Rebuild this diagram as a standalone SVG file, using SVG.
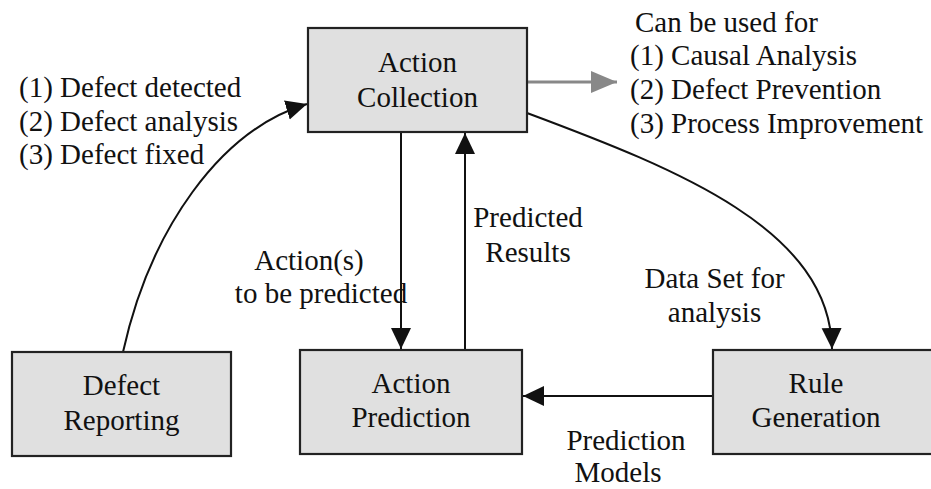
<svg xmlns="http://www.w3.org/2000/svg" width="931" height="489" viewBox="0 0 931 489">
<defs>
<marker id="ah" markerUnits="userSpaceOnUse" markerWidth="22" markerHeight="21" refX="21" refY="10" orient="auto">
<path d="M0,0 L21,10 L0,20 z" fill="#111"/>
</marker>
<marker id="ahg" markerUnits="userSpaceOnUse" markerWidth="27" markerHeight="22" refX="26" refY="11" orient="auto">
<path d="M0,0 L26,11 L0,22 z" fill="#888"/>
</marker>
</defs>
<rect width="931" height="489" fill="#fff"/>
<g id="connectors" fill="none" stroke="#111" stroke-width="2">
<path d="M401,132 L401,349" marker-end="url(#ah)"/>
<path d="M465,350 L465,133" marker-end="url(#ah)"/>
<path d="M713,396 L523,396" marker-end="url(#ah)"/>
<path d="M527,113 C680,170 830,230 832,349" marker-end="url(#ah)"/>
<path d="M123,352 C150,230 220,130 307,104" marker-end="url(#ah)"/>
<path d="M527,82 L617,82" stroke="#888" stroke-width="3" marker-end="url(#ahg)"/>
</g>
<g font-family="Liberation Serif" font-size="29" fill="#111">
<g id="action-collection" text-anchor="middle">
<rect x="308" y="28" width="219" height="104" fill="#e0e0e0" stroke="#222" stroke-width="2.2"/>
<text x="417.5" y="72">Action</text>
<text x="417.5" y="107">Collection</text>
</g>
<g id="defect-reporting" text-anchor="middle">
<rect x="12" y="352" width="219" height="104" fill="#e0e0e0" stroke="#222" stroke-width="2.2"/>
<text x="121.5" y="395">Defect</text>
<text x="121.5" y="430">Reporting</text>
</g>
<g id="action-prediction" text-anchor="middle">
<rect x="300" y="350" width="222" height="104" fill="#e0e0e0" stroke="#222" stroke-width="2.2"/>
<text x="411" y="393">Action</text>
<text x="411" y="427">Prediction</text>
</g>
<g id="rule-generation" text-anchor="middle">
<rect x="713" y="350" width="222" height="104" fill="#e0e0e0" stroke="#222" stroke-width="2.2"/>
<text x="816" y="393">Rule</text>
<text x="816" y="427">Generation</text>
</g>
<g id="labels">
<text x="19" y="97">(1) Defect detected</text>
<text x="19" y="131">(2) Defect analysis</text>
<text x="19" y="164">(3) Defect fixed</text>
<text x="635" y="32">Can be used for</text>
<text x="630" y="65">(1) Causal Analysis</text>
<text x="630" y="99">(2) Defect Prevention</text>
<text x="630" y="133">(3) Process Improvement</text>
<g text-anchor="middle">
<text x="309" y="270">Action(s)</text>
<text x="321" y="303">to be predicted</text>
<text x="528" y="227">Predicted</text>
<text x="528" y="262">Results</text>
<text x="714.5" y="288">Data Set for</text>
<text x="714.5" y="322">analysis</text>
<text x="626" y="450">Prediction</text>
<text x="618" y="482">Models</text>
</g>
</g>
</g>
</svg>
